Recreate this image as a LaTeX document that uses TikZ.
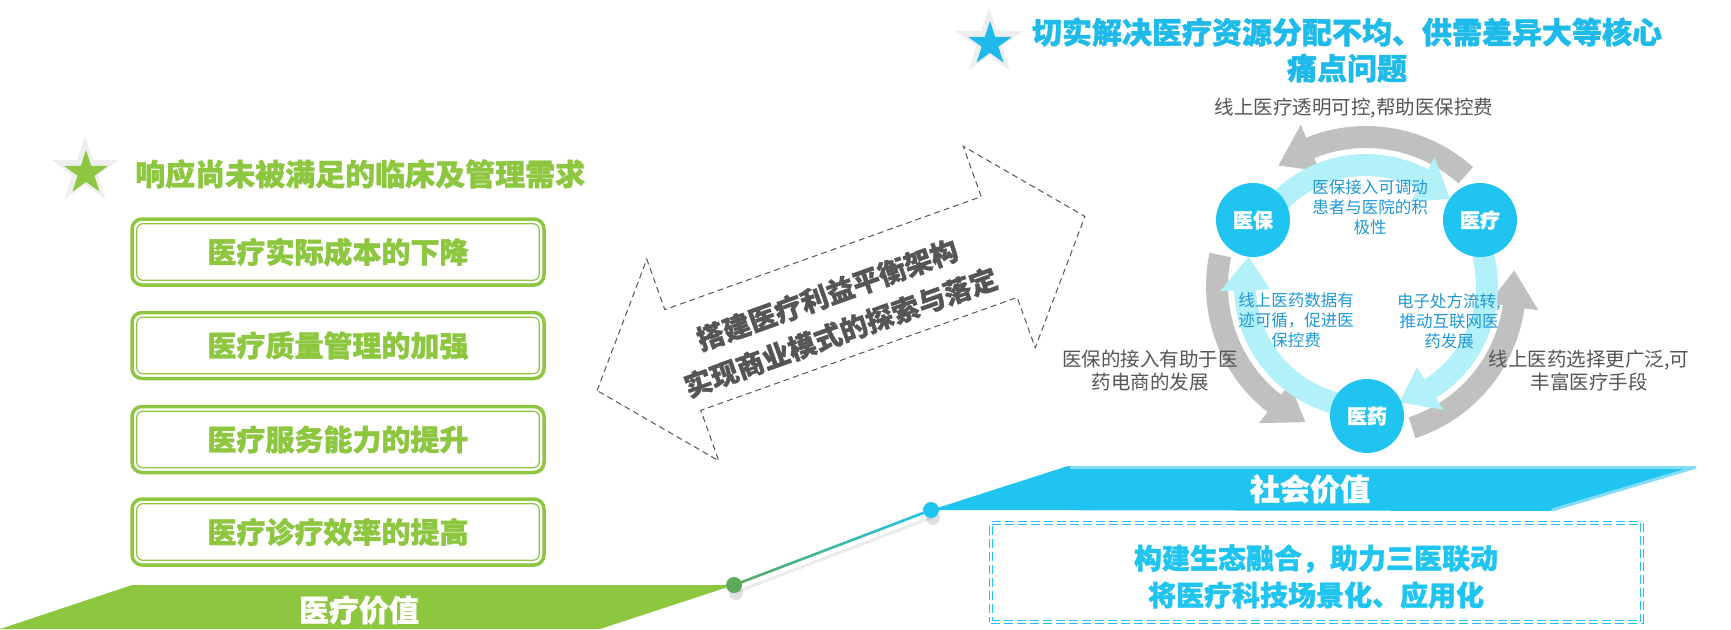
\documentclass[tikz,border=0pt]{standalone}
\usepackage{fontspec}
\setmainfont{Noto Sans CJK SC}[BoldFeatures={FakeBold=1.2}]
\usetikzlibrary{shapes.geometric,calc,backgrounds}

\definecolor{medgreen}{RGB}{141,198,63}
\definecolor{dotgreen}{RGB}{92,170,92}
\definecolor{socblue}{RGB}{32,196,240}
\definecolor{socblue2}{RGB}{130,222,248}
\definecolor{titleblue}{RGB}{30,186,234}
\definecolor{innerblue}{RGB}{32,152,214}
\definecolor{ringcyan}{RGB}{178,240,250}
\definecolor{ringgray}{RGB}{192,192,192}
\definecolor{txtgray}{RGB}{85,85,85}
\definecolor{starshadow}{RGB}{238,238,238}

\begin{document}
\begin{tikzpicture}[
  x=1pt, y=-1pt,
  every node/.style={inner sep=0pt},
  title/.style={font=\fontsize{30}{36}\selectfont\bfseries, align=center},
  gbox/.style={draw=medgreen, line width=3.5pt, rounded corners=10pt, minimum width=412pt, minimum height=66pt, text=medgreen, font=\fontsize{29}{34}\selectfont\bfseries},
  ginner/.style={draw=medgreen, line width=1.2pt, rounded corners=6pt},
  starbg/.style={star, star points=5, star point ratio=2.618, fill=starshadow, minimum size=70pt},
  starfg/.style={star, star points=5, star point ratio=2.618, minimum size=46pt},
  dot/.style={circle, minimum size=16pt},
  barlabel/.style={text=white, font=\fontsize{30}{36}\selectfont\bfseries},
  ycirc/.style={circle, fill=socblue, minimum size=74pt, text=white, font=\fontsize{20}{24}\selectfont\bfseries},
  outtxt/.style={text=txtgray, align=center, font=\fontsize{19.5}{23}\selectfont},
  intxt/.style={text=innerblue, align=center, font=\fontsize{16.5}{20}\selectfont},
]
\useasboundingbox (0,0) rectangle (1731,629);

% Clinical needs
\node[starbg] (gstarbg) at (85,171) {};
\node[starfg, fill=medgreen] (gstar) at (86,173) {};
\node[title, text=medgreen, anchor=west] (needs) at (135,174) {响应尚未被满足的临床及管理需求};

\node[gbox] (cost) at (338,252) {医疗实际成本的下降};
\node[gbox] (quality) at (338,345.5) {医疗质量管理的加强};
\node[gbox] (service) at (338,439.5) {医疗服务能力的提升};
\node[gbox] (effic) at (338,532) {医疗诊疗效率的提高};
\draw[ginner] ([shift={(6.5,6.5)}]cost.north west) rectangle ([shift={(-6.5,-6.5)}]cost.south east);
\draw[ginner] ([shift={(6.5,6.5)}]quality.north west) rectangle ([shift={(-6.5,-6.5)}]quality.south east);
\draw[ginner] ([shift={(6.5,6.5)}]service.north west) rectangle ([shift={(-6.5,-6.5)}]service.south east);
\draw[ginner] ([shift={(6.5,6.5)}]effic.north west) rectangle ([shift={(-6.5,-6.5)}]effic.south east);

% Value bars
\node[dot, fill=dotgreen] (gdot) at (734,585) {};
\node[dot, fill=socblue] (bdot) at (931,510) {};
\begin{pgfonlayer}{background}
\fill[medgreen] (gdot.center) -- (600,629) -- (0,629) -- (132,585) -- cycle;
\fill[socblue] (bdot.center) -- (1068,466) -- (1697,466) -- (1550,511) -- cycle;
\draw[socblue2, line width=3pt, line join=round] (1070,467.5) -- (1695,467.5) -- (1552,510);
\fill[black, opacity=.12] ($(gdot.center)+(2,8)$) circle (7);
\fill[black, opacity=.12] ($(bdot.center)+(2,8)$) circle (7);
\draw[black, opacity=.08, line width=3pt] ($(gdot.center)+(2,7)$) -- ($(bdot.center)+(2,7)$);
\shade[left color=dotgreen, right color=socblue] ($(gdot.center)+(0,-1.4)$) -- ($(bdot.center)+(0,-1.4)$) -- ($(bdot.center)+(0,1.4)$) -- ($(gdot.center)+(0,1.4)$) -- cycle;
\end{pgfonlayer}
\node[barlabel] (medval) at (359,610) {医疗价值};
\node[barlabel] (socval) at (1310,489) {社会价值};

\node[draw=socblue, double=white, double distance=2.5pt, line width=1.1pt, dash pattern=on 9pt off 4pt, minimum width=651pt, minimum height=99pt] (ecobox) at (1316.5,572.5) {};
\node[text=socblue, align=center, font=\fontsize{28}{37}\selectfont\bfseries] (ecotxt) at (1316,576.5) {构建生态融合，助力三医联动\\将医疗科技场景化、应用化};

% Bridge arrow
\begin{scope}[shift={(841,303.5)}, rotate=19.65]
\draw[txtgray, line width=1pt, dash pattern=on 6pt off 4pt] (-259,0) -- (-168,-107) -- (-168,-53.5) -- (168,-53.5) -- (168,-107) -- (259,0) -- (168,107) -- (168,53.5) -- (-168,53.5) -- (-168,107) -- cycle;
\end{scope}
\node[rotate=19.65, text=txtgray, align=center, font=\fontsize{27.5}{40}\selectfont\bfseries] (bridge) at (834,313.5) {搭建医疗利益平衡架构\\实现商业模式的探索与落定};

% Pain points
\node[starbg] (bstarbg) at (989,42) {};
\node[starfg, fill=titleblue] (bstar) at (990,44) {};
\node[title, text=titleblue] (pain) at (1347,50) {切实解决医疗资源分配不均、供需差异大等核心\\痛点问题};

% Cycle
\begin{scope}[shift={(1366,286)}, yscale=-1]
\fill[ringgray] plot[domain=48:112, samples=24] (\x:138) -- (112:124) -- (126:149) -- (112:174) -- plot[domain=112:48, samples=24] (\x:160) -- cycle;
\fill[ringgray] plot[domain=168:232, samples=24] (\x:138) -- (232:124) -- (246:149) -- (232:174) -- plot[domain=232:168, samples=24] (\x:160) -- cycle;
\fill[ringgray] plot[domain=288:352, samples=24] (\x:138) -- (352:124) -- (366:149) -- (352:174) -- plot[domain=352:288, samples=24] (\x:160) -- cycle;
\fill[ringcyan] plot[domain=135:62, samples=24] (\x:110) -- (62:96) -- (46:121) -- (62:146) -- plot[domain=62:135, samples=24] (\x:132) -- cycle;
\fill[ringcyan] plot[domain=375:302, samples=24] (\x:110) -- (302:96) -- (286:121) -- (302:146) -- plot[domain=302:375, samples=24] (\x:132) -- cycle;
\fill[ringcyan] plot[domain=255:182, samples=24] (\x:110) -- (182:96) -- (166:121) -- (182:146) -- plot[domain=182:255, samples=24] (\x:132) -- cycle;
\end{scope}
\node[ycirc] (ybao) at (1253,220) {医保};
\node[ycirc] (yliao) at (1480,220) {医疗};
\node[ycirc] (yyao) at (1367,416) {医药};

\node[outtxt] (toptxt) at (1354,108) {线上医疗透明可控,帮助医保控费};
\node[outtxt] (lefttxt) at (1150,370.5) {医保的接入有助于医\\药电商的发展};
\node[outtxt] (righttxt) at (1589,370.5) {线上医药选择更广泛,可\\丰富医疗手段};
\node[intxt] (topin) at (1370,207) {医保接入可调动\\患者与医院的积\\极性};
\node[intxt] (leftin) at (1296,320) {线上医药数据有\\迹可循，促进医\\保控费};
\node[intxt] (rightin) at (1449,321) {电子处方流转,\\推动互联网医\\药发展};
\end{tikzpicture}
\end{document}
